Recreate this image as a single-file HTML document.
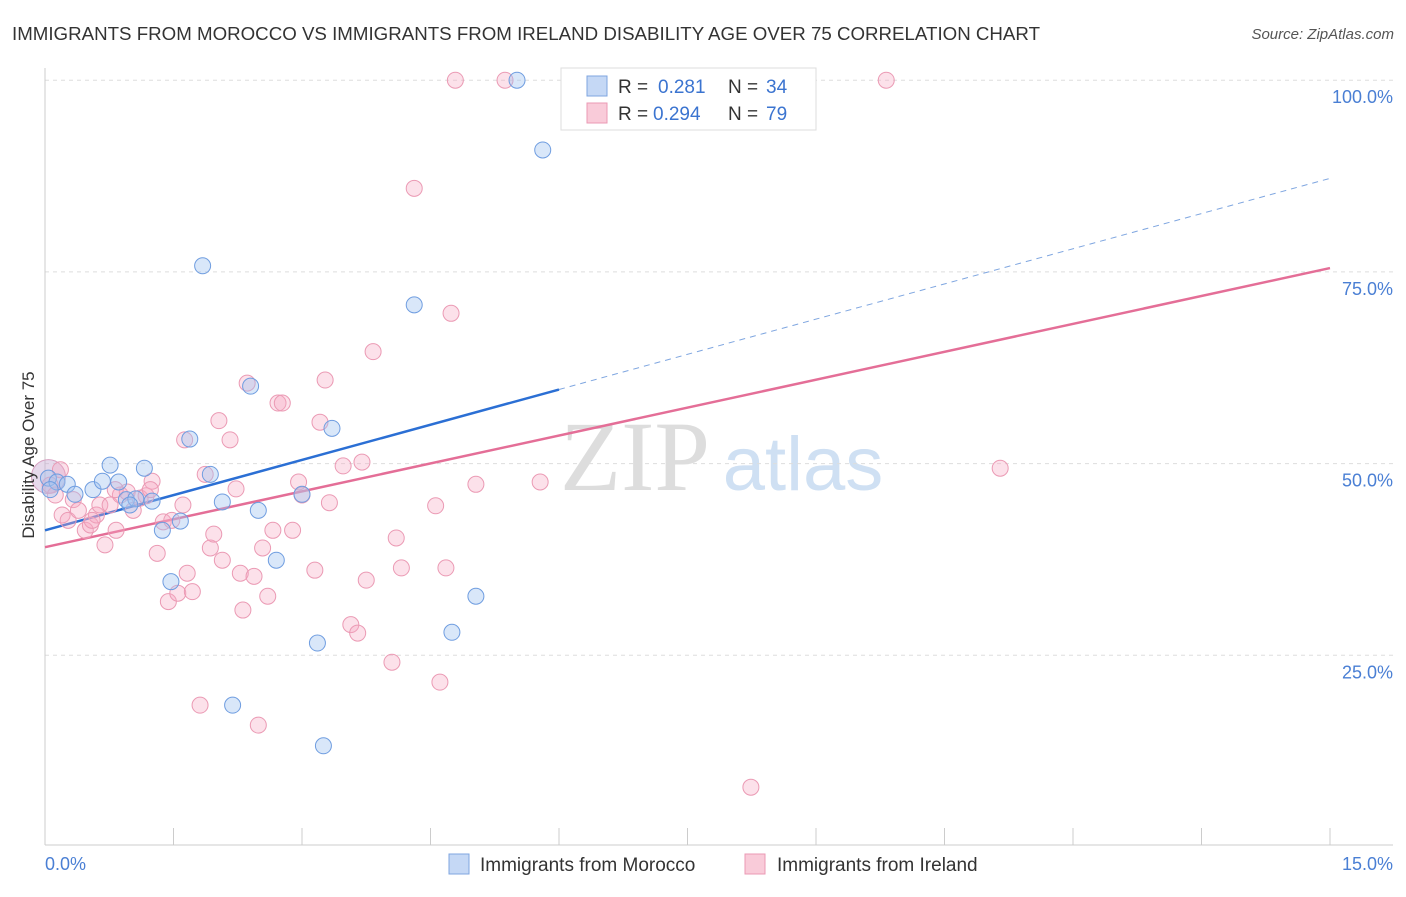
<!DOCTYPE html>
<html><head><meta charset="utf-8"><style>
body{margin:0;background:#fff;font-family:"Liberation Sans",sans-serif;}
</style></head><body>
<svg width="1406" height="892" xmlns="http://www.w3.org/2000/svg" font-family="Liberation Sans, sans-serif">
<text x="12" y="40" font-size="18" fill="#333" textLength="1028" lengthAdjust="spacingAndGlyphs">IMMIGRANTS FROM MOROCCO VS IMMIGRANTS FROM IRELAND DISABILITY AGE OVER 75 CORRELATION CHART</text>
<text x="1394" y="39" font-size="15" fill="#555" font-style="italic" text-anchor="end">Source: ZipAtlas.com</text>
<text x="635" y="490" font-size="100" fill="#ddd" font-family="Liberation Serif, serif" text-anchor="middle">ZIP</text>
<text x="803" y="490" font-size="76" fill="#cfe0f3" text-anchor="middle">atlas</text>
<g id="grid"></g><g id="axes"></g><g id="trends"></g><g id="pts"></g>
<text transform="translate(34,455) rotate(-90)" font-size="17" fill="#333" text-anchor="middle">Disability Age Over 75</text>
<text x="45" y="870" font-size="18" fill="#4a7fd4">0.0%</text>
<text x="1393" y="870" font-size="18" fill="#4a7fd4" text-anchor="end">15.0%</text>
<g>
<rect x="561" y="68" width="255" height="62" fill="#fff" stroke="#ddd"/>
<rect x="587" y="76" width="20" height="20" fill="#c5d8f5" stroke="#7fa6e0"/>
<text x="618" y="93" font-size="19" fill="#333">R =</text>
<text x="658" y="93" font-size="19" fill="#3b74d0">0.281</text>
<text x="728" y="93" font-size="19" fill="#333">N =</text>
<text x="766" y="93" font-size="19" fill="#3b74d0">34</text>
<rect x="587" y="103" width="20" height="20" fill="#f9cbd9" stroke="#eb9ab4"/>
<text x="618" y="120" font-size="19" fill="#333">R =</text>
<text x="653" y="120" font-size="19" fill="#3b74d0">0.294</text>
<text x="728" y="120" font-size="19" fill="#333">N =</text>
<text x="766" y="120" font-size="19" fill="#3b74d0">79</text>
</g>
<g>
<rect x="449" y="854" width="20" height="20" fill="#c5d8f5" stroke="#7fa6e0"/>
<text x="480" y="871" font-size="19" fill="#333">Immigrants from Morocco</text>
<rect x="745" y="854" width="20" height="20" fill="#f9cbd9" stroke="#eb9ab4"/>
<text x="777" y="871" font-size="19" fill="#333">Immigrants from Ireland</text>
</g>
</svg>
<script>
const blueX=[0.04,0.14,0.26,0.35,0.56,0.67,0.76,0.86,0.95,1.06,1.16,1.25,1.37,1.47,1.58,1.69,1.84,1.93,2.07,2.19,2.40,2.49,2.70,3.00,3.18,3.25,3.35,4.31,4.75,5.03,5.51,5.81,0.06,0.99];
const blueY=[48.1,47.6,47.3,46.0,46.6,47.7,49.8,47.6,45.3,45.4,49.4,45.1,41.3,34.6,42.5,53.2,75.8,48.6,45.0,18.5,60.1,43.9,37.4,46.0,26.6,13.2,54.6,70.7,28.0,32.7,100,90.9,46.6,44.6];
const pinkX=[0.06,0.12,0.20,0.27,0.33,0.39,0.47,0.53,0.60,0.64,0.70,0.76,0.83,0.88,0.96,1.03,1.11,1.18,1.25,1.31,1.38,1.44,1.48,1.55,1.61,1.66,1.72,1.81,1.87,1.93,1.97,2.03,2.07,2.16,2.23,2.28,2.31,2.36,2.44,2.49,2.54,2.60,2.66,2.72,2.77,2.89,2.96,3.00,3.15,3.21,3.27,3.32,3.48,3.57,3.65,3.70,3.75,3.83,4.05,4.10,4.16,4.31,4.56,4.61,4.68,4.74,4.79,5.03,5.37,5.78,9.82,11.15,8.24,0.82,0.55,0.18,1.23,1.63];
const pinkY=[47.2,45.9,43.3,42.6,45.3,43.9,41.3,42.0,43.3,44.6,39.4,44.6,41.3,45.9,46.3,43.9,45.5,45.8,47.7,38.3,42.4,32.0,42.6,33.1,44.6,35.7,33.3,18.5,48.6,39.0,40.8,55.6,37.4,53.1,46.7,35.7,30.9,60.5,35.3,15.9,39.0,32.7,41.3,57.9,57.9,41.3,47.6,45.9,36.1,55.4,60.9,44.9,49.7,29.0,27.9,50.2,34.8,64.6,24.1,40.3,36.4,85.9,44.5,21.5,36.4,69.6,100,47.3,100,47.6,100,49.4,7.8,46.6,42.6,49.2,46.6,53.1];
const yTicks=[25,50,75,100];
const yTickLabels=["25.0%","50.0%","75.0%","100.0%"];
const xTicks=[0,1.5,3,4.5,6,7.5,9,10.5,12,13.5,15];
const blueTrend=[41.3,87.2], pinkTrend=[39.1,75.5], blueSolidEnd=6.0;
const NS="http://www.w3.org/2000/svg";
const X=v=>45+v/15*1285, Y=v=>847-v*7.668;
function mk(p,t,a){const e=document.createElementNS(NS,t);for(const k in a)e.setAttribute(k,a[k]);document.getElementById(p).appendChild(e);return e;}
yTicks.forEach((t,i)=>{
 const g=mk('grid','line',{x1:45,x2:1393,y1:Y(t),y2:Y(t),stroke:'#ddd','stroke-dasharray':'4,4'});
 
 
 const l=mk('grid','text',{x:1393,y:Y(t)+23,'font-size':18,fill:'#4a7fd4','text-anchor':'end'});
 l.textContent=yTickLabels[i];
 
 
});
const ax=mk('axes','line',{x1:45,x2:1393,y1:845,y2:845,stroke:'#ccc'});


const ay=mk('axes','line',{x1:45,x2:45,y1:68,y2:845,stroke:'#ccc'});


xTicks.forEach(t=>{const e=mk('axes','line',{x1:X(t),x2:X(t),y1:828,y2:845,stroke:'#ccc'});
 
 });
const lin=(tr,x)=>tr[0]+(tr[1]-tr[0])*x/15;
let t1=mk('trends','line',{x1:X(0),y1:Y(lin(blueTrend,0)),x2:X(blueSolidEnd),y2:Y(lin(blueTrend,blueSolidEnd)),stroke:'#2b6fd4','stroke-width':2.5});


let t2=mk('trends','line',{x1:X(blueSolidEnd),y1:Y(lin(blueTrend,blueSolidEnd)),x2:X(15),y2:Y(lin(blueTrend,15)),stroke:'#7fa6e0','stroke-width':1,'stroke-dasharray':'6,5'});


let t3=mk('trends','line',{x1:X(0),y1:Y(lin(pinkTrend,0)),x2:X(15),y2:Y(lin(pinkTrend,15)),stroke:'#e46e97','stroke-width':2.5});


let big=mk('pts','circle',{cx:X(0.04),cy:Y(48.3),r:17,fill:'rgba(200,170,210,0.45)',stroke:'#d7a0c0'});


pinkX.forEach((x,i)=>{const c=mk('pts','circle',{cx:X(x),cy:Y(pinkY[i]),r:8,fill:'rgba(245,170,195,0.35)',stroke:'#eb9ab4','stroke-width':1});
 
 });
blueX.forEach((x,i)=>{const c=mk('pts','circle',{cx:X(x),cy:Y(blueY[i]),r:8,fill:'rgba(160,195,240,0.4)',stroke:'#6f9de0','stroke-width':1});
 
 });
</script>
</body></html>
